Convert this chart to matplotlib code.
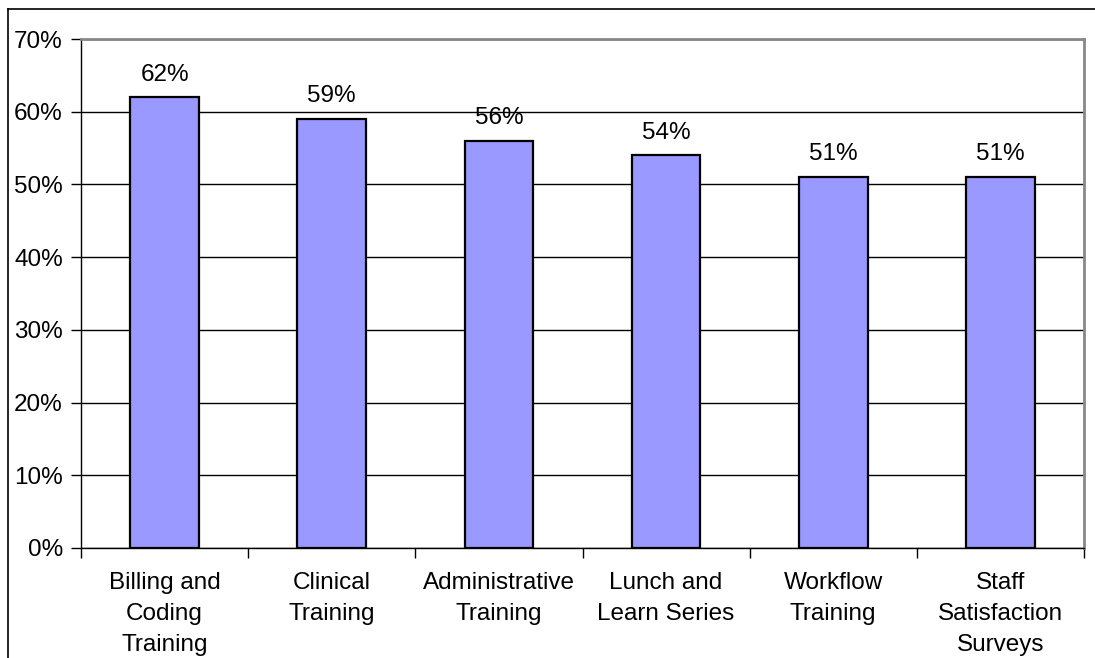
import matplotlib
matplotlib.use("Agg")
import matplotlib.pyplot as plt
from matplotlib.lines import Line2D

categories = ["Billing and\nCoding\nTraining", "Clinical\nTraining", "Administrative\nTraining",
              "Lunch and\nLearn Series", "Workflow\nTraining", "Staff\nSatisfaction\nSurveys"]
values = [62, 59, 56, 54, 51, 51]
yticks = [0, 10, 20, 30, 40, 50, 60, 70]

plt.rcParams['font.family'] = ['Liberation Sans', 'DejaVu Sans']
FS = 17.5

fig = plt.figure(figsize=(10.95, 6.58), dpi=100)
ax = fig.add_axes([81/1095, 1-548/658, (1084-81)/1095, (548-39)/658])

x = list(range(len(values)))
ax.bar(x, values, width=0.41, color='#9999FF', edgecolor='black', linewidth=1.6, zorder=3)
for xi, v in zip(x, values):
    ax.annotate(f"{v}%", (xi, v), xytext=(0, 12), textcoords='offset points',
                ha='center', va='baseline', fontsize=FS)

ax.set_xlim(-0.5, len(values)-0.5)
ax.set_ylim(0, 70)
ax.set_yticks(yticks)
ax.set_yticklabels([f"{t}%" for t in yticks], fontsize=FS)
ax.yaxis.grid(True, color='black', linewidth=1.0, zorder=0)
ax.set_axisbelow(True)

ax.set_xticks(x)
ax.set_xticklabels(categories, fontsize=FS, linespacing=1.53)
ax.tick_params(axis='x', which='major', length=0, pad=17)
ax.set_xticks([i - 0.5 for i in range(len(values)+1)], minor=True)
ax.tick_params(axis='x', which='minor', length=7, width=1, direction='out', color='black')
ax.tick_params(axis='y', length=7, width=1, direction='out', pad=6)

for side in ['top', 'right']:
    ax.spines[side].set_color('#888888')
    ax.spines[side].set_linewidth(2)
for side in ['left', 'bottom']:
    ax.spines[side].set_color('black')
    ax.spines[side].set_linewidth(1)

# outer chart frame
fig.add_artist(Line2D([8/1095, 8/1095], [0, 1-9/658], transform=fig.transFigure, color='black', linewidth=1.2))
fig.add_artist(Line2D([8/1095, 1], [1-9/658, 1-9/658], transform=fig.transFigure, color='black', linewidth=1.2))

fig.savefig("out.png", dpi=100)
